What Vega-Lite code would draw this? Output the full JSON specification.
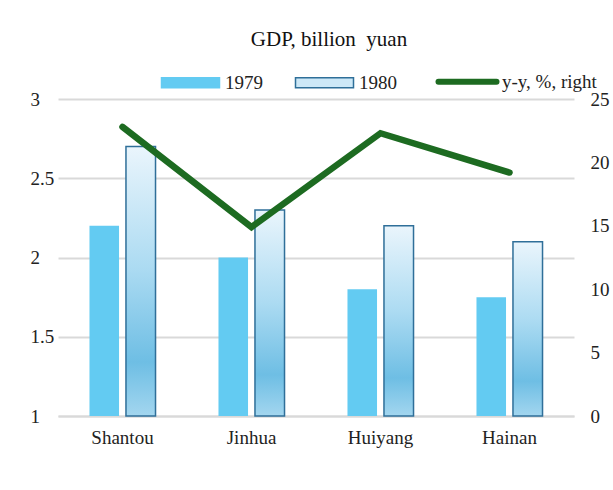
{
  "$schema": "https://vega.github.io/schema/vega-lite/v6.json",
  "autosize": "none",
  "width": 516,
  "height": 317,
  "padding": {"left": 58, "top": 99, "right": 39, "bottom": 74},
  "background": "white",
  "config": {"view": {"stroke": null}},
  "title": {"text": "GDP, billion\u00a0 yuan", "font": "Liberation Serif", "fontSize": 21, "fontWeight": "normal", "color": "#111", "anchor": "middle", "dx": 13, "offset": 22},
  "datasets": {
    "bars": [
      {"city": "Shantou", "series": "1979", "gdp": 2.2},
      {"city": "Jinhua", "series": "1979", "gdp": 2.0},
      {"city": "Huiyang", "series": "1979", "gdp": 1.8},
      {"city": "Hainan", "series": "1979", "gdp": 1.75},
      {"city": "Shantou", "series": "1980", "gdp": 2.7},
      {"city": "Jinhua", "series": "1980", "gdp": 2.3},
      {"city": "Huiyang", "series": "1980", "gdp": 2.2},
      {"city": "Hainan", "series": "1980", "gdp": 2.1}
    ],
    "line": [
      {"city": "Shantou", "series": "y-y, %, right", "yy": 22.8},
      {"city": "Jinhua", "series": "y-y, %, right", "yy": 14.9},
      {"city": "Huiyang", "series": "y-y, %, right", "yy": 22.3},
      {"city": "Hainan", "series": "y-y, %, right", "yy": 19.2}
    ]
  },
  "encoding": {
    "x": {
      "field": "city", "type": "nominal",
      "sort": ["Shantou", "Jinhua", "Huiyang", "Hainan"],
      "scale": {"paddingInner": 0.488, "paddingOuter": 0.244},
      "axis": {"title": null, "labelAngle": 0, "labelFont": "Liberation Serif", "labelFontSize": 19, "labelColor": "#222", "labelPadding": 12, "ticks": false, "domainColor": "#d9d9d9", "domainWidth": 2}
    }
  },
  "layer": [
    {
      "data": {"name": "bars"},
      "encoding": {
        "xOffset": {"field": "series", "type": "nominal", "scale": {"domain": ["1979", "1980"], "paddingInner": 0.19}},
        "y": {
          "field": "gdp", "type": "quantitative",
          "scale": {"domain": [1, 3], "zero": false, "nice": false},
          "axis": {"title": null, "values": [1, 1.5, 2, 2.5, 3], "format": "~g", "labelAlign": "left", "labelPadding": 28, "labelFont": "Liberation Serif", "labelFontSize": 19, "labelColor": "#222", "ticks": false, "domain": false, "grid": true, "gridColor": "#d9d9d9", "gridWidth": 2}
        },
        "y2": {"datum": 1}
      },
      "layer": [
        {
          "transform": [{"filter": "datum.series === '1979'"}],
          "mark": {"type": "bar", "fill": "#63CBF2"}
        },
        {
          "transform": [{"filter": "datum.series === '1980'"}],
          "mark": {
            "type": "bar",
            "stroke": "#2f6f99",
            "strokeWidth": 1.5,
            "fill": {"gradient": "linear", "x1": 0, "y1": 0, "x2": 0, "y2": 1,
              "stops": [
                {"offset": 0, "color": "#eaf5fc"},
                {"offset": 0.45, "color": "#acdbf2"},
                {"offset": 0.8, "color": "#6ebee4"},
                {"offset": 1, "color": "#a3d6ef"}
              ]}
          }
        }
      ]
    },
    {
      "data": {"name": "line"},
      "mark": {"type": "line", "strokeWidth": 6.5, "strokeCap": "round", "strokeJoin": "miter"},
      "encoding": {
        "y": {
          "field": "yy", "type": "quantitative",
          "scale": {"domain": [0, 25], "nice": false},
          "axis": {"orient": "right", "title": null, "values": [0, 5, 10, 15, 20, 25], "labelAlign": "left", "labelPadding": 16, "labelFont": "Liberation Serif", "labelFontSize": 19, "labelColor": "#222", "ticks": false, "domain": false, "grid": false}
        },
        "color": {
          "field": "series", "type": "nominal",
          "scale": {"domain": ["1979", "1980", "y-y, %, right"], "range": ["#63CBF2", "#2f6f99", "#1d6b21"]},
          "legend": {
            "orient": "none", "legendX": 123, "legendY": -27, "direction": "horizontal", "title": null,
            "labelFont": "Liberation Serif", "labelFontSize": 19, "labelColor": "#222", "labelOffset": 25,
            "columnPadding": 29, "symbolSize": 3364,
            "encode": {
              "symbols": {
                "update": {
                  "shape": {"signal": "datum.value === 'y-y, %, right' ? 'stroke' : 'M-1,-0.17L1,-0.17L1,0.17L-1,0.17Z'"},
                  "fill": {"signal": "datum.value === '1979' ? '#63CBF2' : datum.value === '1980' ? '#cde8f7' : 'transparent'"},
                  "stroke": {"signal": "datum.value === '1979' ? '#63CBF2' : datum.value === '1980' ? '#2f6f99' : '#1d6b21'"},
                  "strokeWidth": {"signal": "datum.value === 'y-y, %, right' ? 6 : 1.5"},
                  "strokeCap": {"value": "round"},
                  "opacity": {"value": 1}
                }
              }
            }
          }
        }
      }
    }
  ],
  "resolve": {"scale": {"y": "independent"}}
}
